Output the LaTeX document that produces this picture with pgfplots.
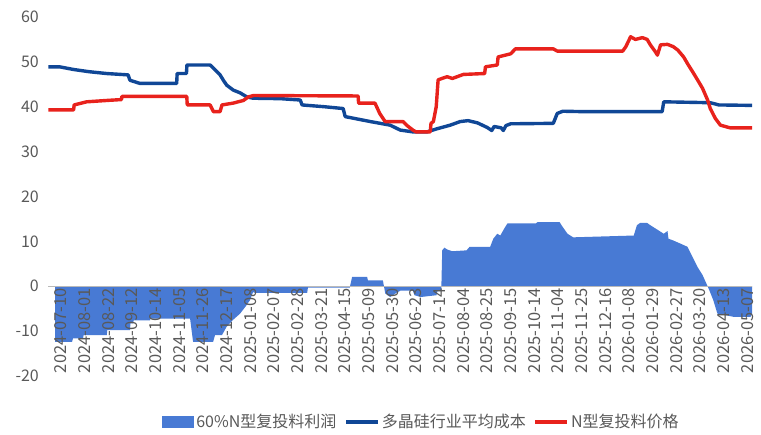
\documentclass[border=0pt]{standalone}
\usepackage{fontspec}
\setmainfont{Noto Sans CJK SC}
\usepackage{pgfplots}
\pgfplotsset{compat=1.18}
\usepackage{pgfplotstable}

\definecolor{profitblue}{HTML}{487AD4}
\definecolor{costblue}{HTML}{104796}
\definecolor{pricered}{HTML}{E8221C}
\definecolor{labelgray}{HTML}{595959}

% 60% N-type profit (trading-day index, value)
\pgfplotstableread{
i v
4.2 -12.4
15 -12.4
15.6 -11.6
22 -11.6
22.3 -10.9
37 -10.9
37.3 -9.8
51.7 -9.8
52 -8.3
53.7 -8.3
54 -7.6
64.4 -7.6
64.7 -7.2
89.8 -7.2
91.7 -12.4
104.4 -12.4
105.6 -10.9
110 -10.9
113 -9.0
117 -7.5
121.5 -6.1
125 -4.5
127.8 -3.1
129.7 -1.3
131 -1.5
164 -1.5
164.5 -0.3
191 -0.3
192.5 2.1
202 2.1
202.5 1.3
212 1.3
213.5 -1.6
216.6 -2.4
220 -1.6
223 -1.0
231 -1.0
232 -2.0
236 -2.4
246 -2.0
246.5 -1.1
249 -1.1
249.6 8.0
251 8.6
252.7 8.2
256 7.8
265 8.0
267 8.8
280 8.8
282 10.6
284.5 11.7
286.4 11.3
289.5 13.2
291 14.0
309 14.0
310 14.3
324 14.3
325.6 13.4
329 11.7
332.6 10.9
371 11.3
373 13.6
375 14.1
379.5 14.1
381.5 13.6
386 12.6
390 11.7
392.4 12.3
393 10.6
396 10.2
400.6 9.5
405 8.8
408.3 6.5
411.4 4.3
414.6 2.5
417.8 0
419 -1.0
421.4 -3.1
424 -6.1
434 -6.8
445 -6.8
446 -6.1
}\profit

% industry average polysilicon cost
\pgfplotstableread{
i v
0 48.9
7 48.9
16 48.3
26 47.8
37 47.4
50.5 47.1
51.7 45.9
58 45.2
81.3 45.2
81.6 47.4
87.5 47.4
87.8 49.3
102.5 49.3
104.6 48.6
108.8 47.1
110.9 45.9
113 44.8
117.2 43.7
121.5 43.1
125.7 42.2
129.7 41.9
147 41.8
159.6 41.5
160.8 40.4
175 40.0
186.8 39.6
188.1 37.8
204 36.7
216.6 35.9
223 34.8
231 34.4
240 34.4
246.4 35.1
254.7 35.9
261 36.7
266 36.9
272 36.4
278 35.4
281 34.7
282.5 35.6
287 35.3
288.3 34.7
290 35.8
293 36.2
320 36.3
322.5 38.5
326 39.0
340 38.9
389 38.9
390 41.1
419.5 40.9
425 40.4
446 40.3
}\cost

% N-type recharging material price
\pgfplotstableread{
i v
0 39.3
16 39.3
16.3 40.4
24.3 41.1
37 41.4
46.3 41.6
46.6 42.3
87.7 42.3
88 40.4
102.5 40.4
104.6 38.9
108.8 38.9
110 40.4
117 40.8
123.6 41.4
126.8 42.2
130 42.5
196.3 42.4
196.6 40.8
207 40.8
210 38.5
213.4 36.7
224.8 36.7
227 35.9
231 34.8
233 34.4
242 34.4
242.5 36.3
244 36.7
245.8 40.0
247 46.0
252.7 46.7
256 46.3
263 47.2
276.5 47.4
277 48.9
284.5 49.3
285 51.1
293 51.8
296 52.9
320 52.9
322.5 52.4
364 52.4
366 53.4
369 55.6
372 55.0
376.5 55.4
379.5 55.0
381.5 53.8
384.6 52.3
386 51.5
388 53.8
392.4 53.9
396 53.4
399 52.6
402.6 51.1
405.6 49.3
408.3 47.8
411.4 46.0
414.6 44.1
417.8 41.5
419.5 39.6
422.7 37.4
425.9 35.9
432 35.3
446 35.3
}\price

\begin{document}
\begin{tikzpicture}
\path[use as bounding box] (0,0) rectangle (761pt,435pt);
\begin{axis}[
  at={(48.4pt,59pt)}, anchor=south west,
  scale only axis,
  width=704pt, height=359pt,
  xmin=0, xmax=446.2,
  ymin=-20, ymax=60,
  ytick={-20,-10,...,60},
  axis on top,
  axis x line*=middle,
  axis y line*=left,
  y axis line style={draw=none},
  x axis line style={draw=gray!55, line width=1.2pt},
  hide obscured x ticks=false,
  hide obscured y ticks=false,
  major tick length=0pt,
  xtick={8,23,...,443},
  xticklabels={2024-07-10,2024-08-01,2024-08-22,2024-09-12,2024-10-14,2024-11-05,2024-11-26,2024-12-17,2025-01-08,2025-02-07,2025-02-28,2025-03-21,2025-04-15,2025-05-09,2025-05-30,2025-06-23,2025-07-14,2025-08-04,2025-08-25,2025-09-15,2025-10-14,2025-11-04,2025-11-25,2025-12-16,2026-01-08,2026-01-29,2026-02-27,2026-03-20,2026-04-13,2026-05-07},
  xticklabel style={rotate=90, anchor=east, inner sep=2pt, text=labelgray,
    font=\fontsize{16.5}{18}\selectfont},
  yticklabel style={text=labelgray, xshift=-6pt,
    font=\fontsize{16}{18}\selectfont},
  /pgf/number format/assume math mode=true,
  legend columns=3,
  legend style={at={(0.53,-0.128)}, anchor=center, draw=none, fill=none,
    font=\fontsize{16}{18}\selectfont, text=labelgray,
    /tikz/every even column/.append style={column sep=6pt},
    /tikz/every odd column/.append style={column sep=0pt}},
  clip=false,
]
\addplot[fill=profitblue, draw=none,
  legend image code/.code={\fill[profitblue] (0pt,-6pt) rectangle (32pt,6pt);}]
  table[x=i, y=v] {\profit} \closedcycle;
\addlegendentry{60\%N型复投料利润}
\addplot[costblue, line width=3.4pt, line join=round,
  legend image code/.code={\draw[costblue, line width=3.4pt] (0pt,0pt) -- (32pt,0pt);}]
  table[x=i, y=v] {\cost};
\addlegendentry{多晶硅行业平均成本}
\addplot[pricered, line width=3.4pt, line join=round,
  legend image code/.code={\draw[pricered, line width=3.4pt] (0pt,0pt) -- (32pt,0pt);}]
  table[x=i, y=v] {\price};
\addlegendentry{N型复投料价格}
\end{axis}
\end{tikzpicture}
\end{document}
